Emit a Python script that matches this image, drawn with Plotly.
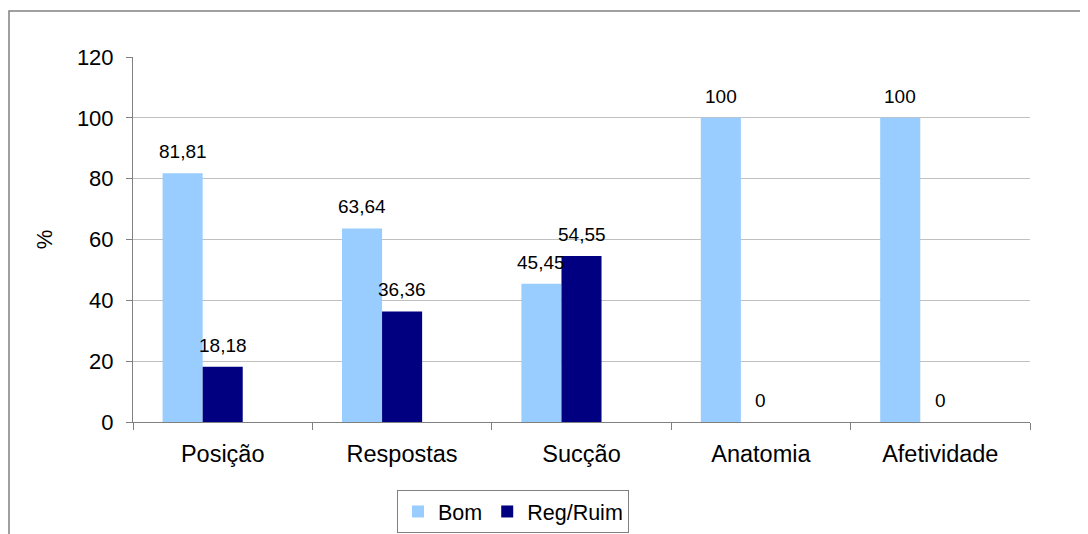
import plotly.graph_objects as go

categories = ["Posição", "Respostas", "Sucção", "Anatomia", "Afetividade"]
bom = [81.81, 63.64, 45.45, 100, 100]
reg_ruim = [18.18, 36.36, 54.55, 0, 0]
bom_labels = ["81,81", "63,64", "45,45", "100", "100"]
reg_labels = ["18,18", "36,36", "54,55", "0", "0"]
y_ticks = [0, 20, 40, 60, 80, 100, 120]

# page has an 8px body margin, so the figure is drawn 8px in from the window corner
OFF = 8
W, H = 1088 - OFF, 580
L, R, T = 133 - OFF, 58, 57 - OFF
B = H - (422 - OFF)
pw, ph = W - L - R, H - T - B

font = "Liberation Sans, Arial, sans-serif"

fig = go.Figure()
fig.add_trace(go.Bar(
    x=categories, y=bom, name="Bom", marker=dict(color="#99CCFF", line=dict(width=0)),
))
fig.add_trace(go.Bar(
    x=categories, y=reg_ruim, name="Reg/Ruim", marker=dict(color="#000080", line=dict(width=0)),
))
# empty third slot (reserves space as in the original grouping)
fig.add_trace(go.Bar(
    x=categories, y=[None] * len(categories), showlegend=False, hoverinfo="skip",
    marker=dict(color="rgba(0,0,0,0)"),
))

cat_w = pw / len(categories)
bargap = 0.33
bar_w = cat_w * (1 - bargap) / 3
annotations = []
for cat, v, lab in zip(categories, bom, bom_labels):
    annotations.append(dict(x=cat, y=v, xref="x", yref="y", text=lab, showarrow=False,
                            xshift=-bar_w, yanchor="bottom", yshift=9,
                            font=dict(size=19, family=font, color="black")))
for cat, v, lab in zip(categories, reg_ruim, reg_labels):
    annotations.append(dict(x=cat, y=v, xref="x", yref="y", text=lab, showarrow=False,
                            xshift=0, yanchor="bottom", yshift=9,
                            font=dict(size=19, family=font, color="black")))

fig.update_layout(
    width=W, height=H,
    margin=dict(l=L, r=R, t=T, b=B, pad=0),
    paper_bgcolor="white", plot_bgcolor="white",
    barmode="group", bargap=bargap, bargroupgap=0,
    font=dict(family=font, color="black", size=22),
    showlegend=True,
    legend=dict(
        orientation="h", x=(513 - 133) / pw, xanchor="center",
        y=(422 - 490) / ph, yanchor="top",
        bordercolor="#808080", borderwidth=1,
        font=dict(size=21.5, family=font), traceorder="normal",
        itemwidth=30, tracegroupgap=0,
    ),
    annotations=annotations,
)
fig.update_xaxes(
    type="category", showline=True, linecolor="#808080", linewidth=1,
    ticks="outside", tickson="boundaries", ticklen=7, tickcolor="#808080",
    showgrid=False, tickfont=dict(size=23.5, family=font), ticklabelstandoff=11,
)
fig.update_yaxes(
    range=[0, 120], tickvals=y_ticks, showline=True, linecolor="#808080", linewidth=1,
    ticks="outside", ticklen=6, tickcolor="#808080",
    showgrid=True, gridcolor="#C0C0C0", gridwidth=1,
    tickfont=dict(size=22, family=font), zeroline=False, ticklabelstandoff=8,
    title=dict(text="%", font=dict(size=22, family=font), standoff=18),
)

# outer chart frame
fig.add_shape(
    type="rect", xref="paper", yref="paper",
    x0=(9 - 133) / pw, x1=(1088 + 20 - 133) / pw,
    y0=(422 - (534 + 20)) / ph, y1=(422 - 11) / ph,
    line=dict(color="#808080", width=1.5), fillcolor="rgba(0,0,0,0)", layer="below",
)

fig.write_html("out.html")
